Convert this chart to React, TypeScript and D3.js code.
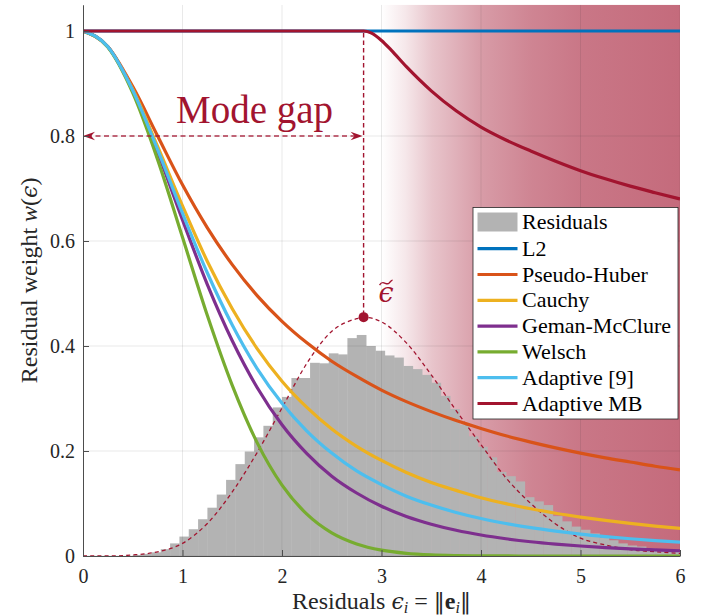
import React, { useEffect, useRef } from 'react';
import * as d3 from 'd3';

// Sample positions (residual magnitude) for the robust weight curves
const sampleX = [0, 0.25, 0.5, 0.75, 1, 1.25, 1.5, 1.75, 2, 2.25, 2.5, 2.75, 3, 3.25, 3.5, 3.75, 4, 4.25, 4.5, 4.75, 5, 5.25, 5.5, 5.75, 6];

const pseudoHuberW = [1, 0.970, 0.894, 0.800, 0.707, 0.625, 0.555, 0.496, 0.447, 0.406, 0.371, 0.342, 0.316, 0.294, 0.275, 0.258, 0.243, 0.229, 0.217, 0.206, 0.196, 0.187, 0.179, 0.171, 0.164];
const cauchyW = [1, 0.970, 0.889, 0.780, 0.667, 0.561, 0.471, 0.395, 0.333, 0.283, 0.242, 0.209, 0.182, 0.159, 0.140, 0.125, 0.111, 0.0997, 0.0899, 0.0814, 0.0741, 0.0677, 0.0620, 0.0570, 0.0526];
const gemanMcClureW = [1, 0.970, 0.886, 0.769, 0.640, 0.517, 0.410, 0.321, 0.250, 0.195, 0.152, 0.120, 0.0947, 0.0754, 0.0606, 0.0490, 0.0400, 0.0329, 0.0272, 0.0227, 0.0190, 0.0161, 0.0136, 0.0116, 0.0100];
const welschW = [1, 0.969, 0.882, 0.755, 0.607, 0.458, 0.325, 0.216, 0.135, 0.0796, 0.0439, 0.0228, 0.0111, 0.0051, 0.0022, 0.0009, 0.0003, 0.0001, 0, 0, 0, 0, 0, 0, 0];
const adaptive9W = [1, 0.970, 0.887, 0.774, 0.653, 0.539, 0.440, 0.357, 0.291, 0.238, 0.196, 0.162, 0.136, 0.114, 0.0970, 0.0830, 0.0714, 0.0619, 0.0539, 0.0473, 0.0416, 0.0369, 0.0328, 0.0293, 0.0263];

const l2X = [0, 6];
const l2W = [1, 1];

const adaptiveMbX = [0, 2.82, 2.9, 3.0, 3.1, 3.25, 3.5, 3.75, 4, 4.25, 4.5, 4.75, 5, 5.25, 5.5, 5.75, 6];
const adaptiveMbW = [1, 1, 0.996, 0.982, 0.963, 0.932, 0.886, 0.848, 0.817, 0.7925, 0.7715, 0.752, 0.734, 0.7185, 0.7045, 0.692, 0.680];

// Fitted residual density (dashed)
const densityX = [0, 0.25, 0.5, 0.75, 1, 1.25, 1.5, 1.75, 2, 2.25, 2.5, 2.75, 2.82, 3, 3.25, 3.5, 3.75, 4, 4.25, 4.5, 4.75, 5, 5.25, 5.5, 5.75, 6];
const densityY = [0, 0, 0.002, 0.008, 0.024, 0.062, 0.122, 0.197, 0.282, 0.367, 0.428, 0.452, 0.455, 0.446, 0.406, 0.345, 0.277, 0.212, 0.149, 0.1, 0.061, 0.034, 0.021, 0.012, 0.008, 0.005];

// Residual histogram (normalised bar heights)
const histStart = 0.5;
const histBinWidth = 0.0938;
const histHeights = [
  0.002, 0.004, 0.007, 0.013, 0.024, 0.037, 0.051, 0.070, 0.092, 0.117,
  0.145, 0.175, 0.199, 0.226, 0.248, 0.283, 0.303, 0.339, 0.339, 0.368,
  0.367, 0.386, 0.384, 0.415, 0.421, 0.400, 0.391, 0.382, 0.378, 0.362,
  0.356, 0.345, 0.330, 0.305, 0.280, 0.250, 0.228, 0.208, 0.188, 0.160,
  0.152, 0.142, 0.112, 0.104, 0.097, 0.076, 0.066, 0.056, 0.050, 0.043,
  0.035, 0.030, 0.024, 0.020, 0.018, 0.014, 0.012, 0.010, 0.008,
];

const modeX = 2.82;
const modePeak = 0.455;
const modeGapY = 0.8;
const shadeFrom = 3;

const xTicks = [0, 1, 2, 3, 4, 5, 6];
const yTicks = [0, 0.2, 0.4, 0.6, 0.8, 1];
const yTickLabels = ['0', '0.2', '0.4', '0.6', '0.8', '1'];

const seriesNames = ['L2', 'Pseudo-Huber', 'Cauchy', 'Geman-McClure', 'Welsch', 'Adaptive [9]', 'Adaptive MB'];
const seriesColors = ['#0072BD', '#D95319', '#EDB120', '#7E2F8E', '#77AC30', '#4DBEEE', '#A2142F'];

const FONT = 'Liberation Serif';
const GREEK = 'DejaVu Serif';
const MB = '#A2142F';

const App: React.FC = () => {
  const ref = useRef<SVGSVGElement>(null);

  useEffect(() => {
    if (!ref.current) return;
    const svg = d3.select(ref.current);
    svg.selectAll('*').remove();

    const x = d3.scaleLinear().domain([0, 6]).range([83, 680]);
    const y = d3.scaleLinear().domain([0, 1.05]).range([556, 4.75]);
    const [x0, x1] = x.range();
    const [yb, yt] = y.range();

    const defs = svg.append('defs');
    defs.append('clipPath').attr('id', 'plot-clip')
      .append('rect').attr('x', x0).attr('y', yt).attr('width', x1 - x0).attr('height', yb - yt);

    const grad = defs.append('linearGradient')
      .attr('id', 'shade')
      .attr('gradientUnits', 'userSpaceOnUse')
      .attr('x1', x(shadeFrom)).attr('x2', x(6)).attr('y1', 0).attr('y2', 0);
    [[0, 0], [0.08, 0.1], [0.17, 0.25], [0.33, 0.42], [0.5, 0.52], [0.67, 0.58], [1, 0.63]].forEach(([o, a]) => {
      grad.append('stop').attr('offset', o).attr('stop-color', MB).attr('stop-opacity', a);
    });

    const plot = svg.append('g').attr('clip-path', 'url(#plot-clip)');

    // shaded outlier region
    plot.append('rect')
      .attr('x', x(shadeFrom)).attr('y', yt)
      .attr('width', x(6) - x(shadeFrom)).attr('height', yb - yt)
      .attr('fill', 'url(#shade)');

    // histogram
    const bw = x(histBinWidth) - x(0);
    plot.selectAll('.bar')
      .data(histHeights)
      .enter()
      .append('rect')
      .attr('x', (_d, i) => x(histStart + i * histBinWidth))
      .attr('y', d => y(d))
      .attr('width', bw + 0.4)
      .attr('height', d => yb - y(d))
      .attr('fill', '#b3b3b3');

    // grid
    plot.selectAll('.vgrid').data(xTicks).enter().append('line')
      .attr('x1', d => x(d)).attr('x2', d => x(d)).attr('y1', yt).attr('y2', yb)
      .attr('stroke', '#262626').attr('stroke-opacity', 0.13).attr('stroke-width', 0.8);
    plot.selectAll('.hgrid').data(yTicks).enter().append('line')
      .attr('x1', x0).attr('x2', x1).attr('y1', d => y(d)).attr('y2', d => y(d))
      .attr('stroke', '#262626').attr('stroke-opacity', 0.13).attr('stroke-width', 0.8);

    // density (dashed)
    const pts = (xs: number[], ys: number[]) => xs.map((v, i) => [v, ys[i]] as [number, number]);
    const line = d3.line<[number, number]>()
      .x(d => x(d[0]))
      .y(d => y(d[1]))
      .curve(d3.curveMonotoneX);

    plot.append('path')
      .attr('d', line(pts(densityX, densityY)))
      .attr('fill', 'none')
      .attr('stroke', MB)
      .attr('stroke-width', 1.3)
      .attr('stroke-dasharray', '4,3.2');

    // weight curves
    const curves: [number, number][][] = [
      pts(l2X, l2W),
      pts(sampleX, pseudoHuberW),
      pts(sampleX, cauchyW),
      pts(sampleX, gemanMcClureW),
      pts(sampleX, welschW),
      pts(sampleX, adaptive9W),
      pts(adaptiveMbX, adaptiveMbW),
    ];
    curves.forEach((c, i) => {
      plot.append('path')
        .attr('d', line(c))
        .attr('fill', 'none')
        .attr('stroke', seriesColors[i])
        .attr('stroke-width', 3.2)
        .attr('stroke-linejoin', 'round');
    });

    // mode annotations
    const ann = svg.append('g');
    ann.append('line')
      .attr('x1', x(modeX)).attr('x2', x(modeX))
      .attr('y1', y(1) + 2).attr('y2', y(modePeak))
      .attr('stroke', MB).attr('stroke-width', 1.4).attr('stroke-dasharray', '4.5,3');
    ann.append('line')
      .attr('x1', x(0) + 4).attr('x2', x(modeX) - 4)
      .attr('y1', y(modeGapY)).attr('y2', y(modeGapY))
      .attr('stroke', MB).attr('stroke-opacity', 0.85).attr('stroke-width', 1.4).attr('stroke-dasharray', '5,3.5');
    const head = (tx: number, ty: number, dir: number) => {
      const L = 12, W = 4.2, N = 8;
      return `M${tx},${ty} L${tx + dir * L},${ty - W} L${tx + dir * N},${ty} L${tx + dir * L},${ty + W} Z`;
    };
    ann.append('path').attr('d', head(x(0), y(modeGapY), 1)).attr('fill', MB);
    ann.append('path').attr('d', head(x(modeX) - 1, y(modeGapY), -1)).attr('fill', MB);

    ann.append('circle')
      .attr('cx', x(modeX)).attr('cy', y(modePeak)).attr('r', 5)
      .attr('fill', MB);

    ann.append('text')
      .attr('x', x(0.935)).attr('y', y(0.825))
      .attr('font-family', FONT).attr('font-size', 39)
      .attr('fill', MB)
      .text('Mode gap');

    const ex = x(modeX) + 15;
    const ey = y(modePeak) - 15;
    ann.append('text')
      .attr('x', ex).attr('y', ey)
      .attr('font-family', GREEK).attr('font-size', 27).attr('font-style', 'italic')
      .attr('fill', MB)
      .text('ϵ');
    ann.append('path')
      .attr('d', `M${ex + 1},${ey - 17} C${ex + 4},${ey - 23} ${ex + 8},${ey - 16} ${ex + 10.5},${ey - 19} S${ex + 13},${ey - 22} ${ex + 14},${ey - 22}`)
      .attr('fill', 'none').attr('stroke', MB).attr('stroke-width', 1.4);

    // axes
    const xAxis = d3.axisBottom(x).tickValues(xTicks).tickFormat(d3.format('d'))
      .tickSizeInner(-6).tickSizeOuter(0).tickPadding(13);
    const yAxis = d3.axisLeft(y).tickValues(yTicks)
      .tickFormat((_d, i) => yTickLabels[i])
      .tickSizeInner(-6).tickSizeOuter(0).tickPadding(8);

    const gx = svg.append('g').attr('transform', `translate(0,${yb})`).call(xAxis);
    const gy = svg.append('g').attr('transform', `translate(${x0},0)`).call(yAxis);
    [gx, gy].forEach(g => {
      g.attr('font-family', FONT).attr('font-size', 20);
      g.select('.domain').attr('stroke', '#4d4d4d').attr('stroke-width', 1);
      g.selectAll('.tick line').attr('stroke', '#4d4d4d');
      g.selectAll('.tick text').attr('fill', '#262626');
    });

    // axis labels
    const xl = svg.append('text')
      .attr('x', (x0 + x1) / 2).attr('y', 609)
      .attr('text-anchor', 'middle')
      .attr('font-family', FONT).attr('font-size', 24).attr('fill', '#262626');
    xl.append('tspan').text('Residuals ');
    xl.append('tspan').attr('font-family', GREEK).attr('font-size', 22).attr('font-style', 'italic').text('ϵ');
    xl.append('tspan').attr('font-style', 'italic').attr('font-size', 16).attr('dy', 4).text('i');
    xl.append('tspan').attr('dy', -4).text(' = ');
    xl.append('tspan').attr('font-family', GREEK).attr('font-size', 22).text('‖');
    xl.append('tspan').attr('font-weight', 'bold').text('e');
    xl.append('tspan').attr('font-style', 'italic').attr('font-size', 16).attr('dy', 4).text('i');
    xl.append('tspan').attr('dy', -4).attr('font-family', GREEK).attr('font-size', 22).text('‖');

    const yl = svg.append('text')
      .attr('transform', `translate(37,${(yb + yt) / 2}) rotate(-90)`)
      .attr('text-anchor', 'middle')
      .attr('font-family', FONT).attr('font-size', 24).attr('fill', '#262626');
    yl.append('tspan').text('Residual weight ');
    yl.append('tspan').attr('font-style', 'italic').text('w');
    yl.append('tspan').text('(');
    yl.append('tspan').attr('font-family', GREEK).attr('font-size', 22).attr('font-style', 'italic').text('ϵ');
    yl.append('tspan').text(')');

    // legend
    const lg = svg.append('g').attr('transform', 'translate(473,207.5)')
      .attr('font-family', FONT).attr('font-size', 22);
    lg.append('rect')
      .attr('x', 0).attr('y', 0).attr('width', 205).attr('height', 211.5)
      .attr('fill', '#fff').attr('stroke', '#262626').attr('stroke-width', 0.8);
    lg.append('rect')
      .attr('x', 4.5).attr('y', 5).attr('width', 40).attr('height', 19)
      .attr('fill', '#b3b3b3');
    lg.append('text')
      .attr('x', 49).attr('y', 21.5)
      .attr('fill', '#000')
      .text('Residuals');
    seriesNames.forEach((name, i) => {
      const ly = 41.2 + i * 25.8;
      lg.append('line')
        .attr('x1', 4.5).attr('x2', 44.5).attr('y1', ly).attr('y2', ly)
        .attr('stroke', seriesColors[i]).attr('stroke-width', 3.2);
      lg.append('text')
        .attr('x', 49).attr('y', ly + 7)
        .attr('fill', '#000')
        .text(name);
    });
  }, []);

  return (
    <svg
      ref={ref}
      width={704}
      height={615}
      style={{ position: 'absolute', left: 0, top: 0, background: '#fff', display: 'block' }}
    />
  );
};

export default App;
